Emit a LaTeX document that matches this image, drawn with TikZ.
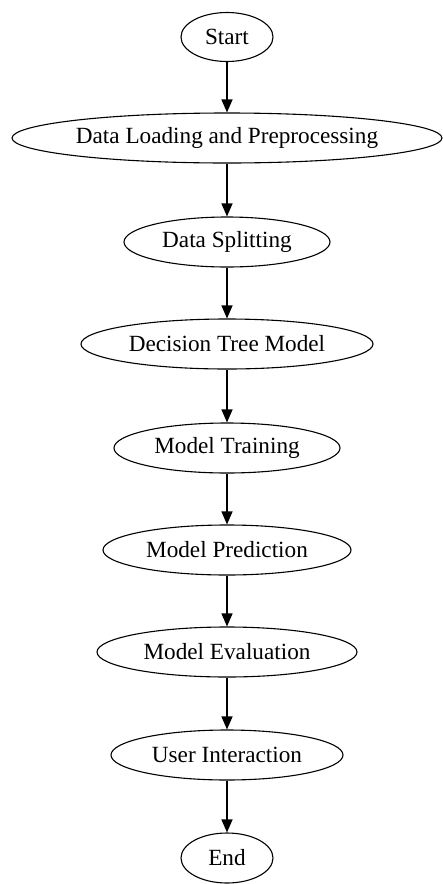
\documentclass[tikz,border=0pt]{standalone}
\usepackage{fontspec}
\setmainfont{Liberation Serif}
\usetikzlibrary{shapes.geometric,arrows.meta}
\begin{document}
\begin{tikzpicture}[x=1pt,y=-1pt,
 el/.style={draw, ellipse, line width=1.1pt, inner xsep=-250pt, inner ysep=-60pt,
   minimum height=50pt, font=\fontsize{23.2}{27}\selectfont},
 arr/.style={-{Triangle[length=13pt,width=11pt]}, line width=1.2pt}]
\useasboundingbox (0,0) rectangle (443,884);
\node[el, minimum width=92pt, minimum height=49pt] (start) at (227,37) {Start};
\node[el, minimum width=430pt] (dlp) at (227,138) {Data Loading and Preprocessing};
\node[el, minimum width=206pt] (ds) at (227,242) {Data Splitting};
\node[el, minimum width=292pt] (dtm) at (227,344) {Decision Tree Model};
\node[el, minimum width=226pt] (mt) at (227,448) {Model Training};
\node[el, minimum width=248pt] (mp) at (227,550) {Model Prediction};
\node[el, minimum width=260pt] (me) at (227,652) {Model Evaluation};
\node[el, minimum width=232pt] (ui) at (227,755) {User Interaction};
\node[el, minimum width=92pt] (end) at (227,858) {End};
\draw[arr] (start) -- (dlp);
\draw[arr] (dlp) -- (ds);
\draw[arr] (ds) -- (dtm);
\draw[arr] (dtm) -- (mt);
\draw[arr] (mt) -- (mp);
\draw[arr] (mp) -- (me);
\draw[arr] (me) -- (ui);
\draw[arr] (ui) -- (end);
\end{tikzpicture}
\end{document}
